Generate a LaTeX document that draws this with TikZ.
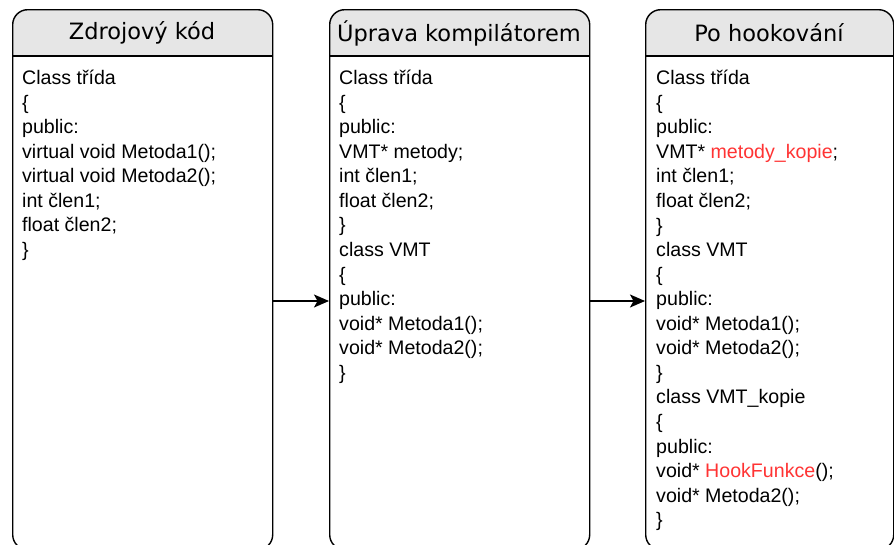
\documentclass[tikz,border=0pt]{standalone}
\usepackage{fontspec}
\setmainfont{Liberation Sans}
\newfontfamily\titlefont{DejaVu Sans}
\usetikzlibrary{arrows.meta}
\definecolor{hdr}{HTML}{E6E6E6}
\definecolor{hl}{HTML}{FF3333}
\newcommand{\hlt}[1]{\textcolor{hl}{#1}}
\tikzset{
  boxframe/.style={draw=black, line width=1.4pt, rounded corners=15pt, inner sep=0pt},
  title/.style={font=\titlefont\fontsize{22.5}{25}\selectfont, inner sep=0pt},
  body/.style={font=\fontsize{19.6}{24.56}\selectfont, align=left, anchor=north west, inner sep=0pt},
  conn/.style={line width=1.4pt, -{Stealth[length=15pt,width=13pt,inset=3.5pt]}}
}
\begin{document}
\begin{tikzpicture}[x=1pt,y=-1pt]
\useasboundingbox (0,0) rectangle (894,544);
% box 1
\fill[hdr] (12,56) {[rounded corners=15pt] -- (12,9) -- (272,9)} -- (272,56) -- cycle;
\draw[line width=1.4pt] (12,56) -- (272,56);
\node[boxframe, minimum width=260pt, minimum height=540pt, anchor=north west] (b1) at (12,9) {};
\node[title] (t1) at (142,33) {Zdrojový kód};
\node[body] (x1) at (22,70) {Class třída\\
{\{}\\
public:\\
virtual void Metoda1();\\
virtual void Metoda2();\\
int člen1;\\
float člen2;\\
\}};
% box 2
\fill[hdr] (329,56) {[rounded corners=15pt] -- (329,9) -- (589,9)} -- (589,56) -- cycle;
\draw[line width=1.4pt] (329,56) -- (589,56);
\node[boxframe, minimum width=260pt, minimum height=540pt, anchor=north west] (b2) at (329,9) {};
\node[title] (t2) at (459,33) {Úprava kompilátorem};
\node[body] (x2) at (339,70) {Class třída\\
\{\\
public:\\
VMT* metody;\\
int člen1;\\
float člen2;\\
\}\\
class VMT\\
\{\\
public:\\
void* Metoda1();\\
void* Metoda2();\\
\}};
% box 3
\fill[hdr] (645,56) {[rounded corners=15pt] -- (645,9) -- (893,9)} -- (893,56) -- cycle;
\draw[line width=1.4pt] (645,56) -- (893,56);
\node[boxframe, minimum width=248pt, minimum height=540pt, anchor=north west] (b3) at (645,9) {};
\node[title] (t3) at (769,33) {Po hookování};
\node[body] (x3) at (656,70) {Class třída\\
\{\\
public:\\
VMT* \hlt{metody\_kopie};\\
int člen1;\\
float člen2;\\
\}\\
class VMT\\
\{\\
public:\\
void* Metoda1();\\
void* Metoda2();\\
\}\\
class VMT\_kopie\\
\{\\
public:\\
void* \hlt{HookFunkce}();\\
void* Metoda2();\\
\}};
% connectors
\draw[conn] (b1.east |- 0,301) -- (b2.west |- 0,301);
\draw[conn] (b2.east |- 0,301) -- (b3.west |- 0,301);
\end{tikzpicture}
\end{document}
